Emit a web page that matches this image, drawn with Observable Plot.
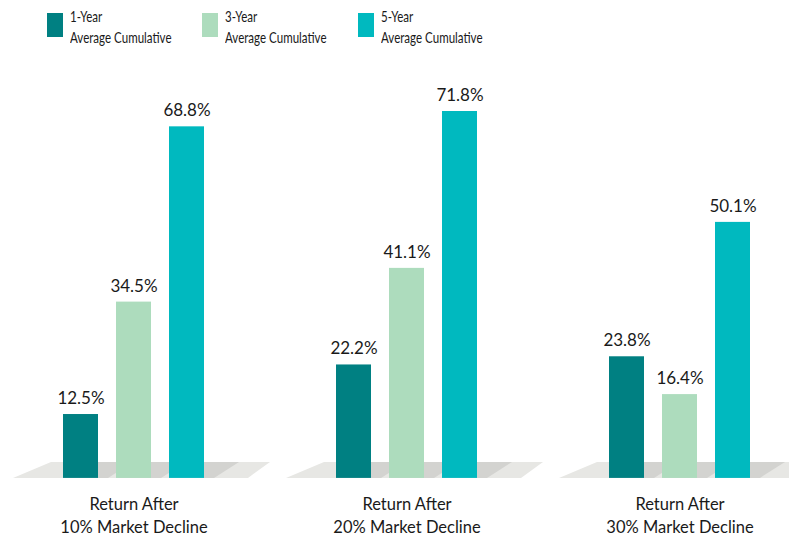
<!DOCTYPE html>
<html>
<head>
<meta charset="utf-8">
<script src="https://cdn.jsdelivr.net/npm/d3@7"></script>
<script src="https://cdn.jsdelivr.net/npm/@observablehq/plot@0.6"></script>
<style>
  html, body { margin: 0; padding: 0; background: #ffffff; }
  body { width: 789px; font-family: Lato, sans-serif; color: #1a1a1a; }
  #legend { position: relative; height: 55px; }
  .sw { position: absolute; top: 13px; width: 16px; height: 24px; }
  .lt { position: absolute; top: 6px; font-size: 15px; line-height: 21px; white-space: pre; transform: scaleX(0.77); transform-origin: 0 0; }
  #chart svg { display: block; }
</style>
</head>
<body>
<div id="legend"></div>
<div id="chart"></div>
<script>
const periods = ["1-Year", "3-Year", "5-Year"];
const legendLabels = ["1-Year\nAverage Cumulative", "3-Year\nAverage Cumulative", "5-Year\nAverage Cumulative"];
const declines = ["10%", "20%", "30%"];
const groupLabels = ["Return After\n10% Market Decline", "Return After\n20% Market Decline", "Return After\n30% Market Decline"];
const oneYear = [12.5, 22.2, 23.8];
const threeYear = [34.5, 41.1, 16.4];
const fiveYear = [68.8, 71.8, 50.1];
const colors = ["#008082", "#addcbd", "#00b9bf"];

const series = [oneYear, threeYear, fiveYear];
const data = [];
declines.forEach((g, gi) => periods.forEach((p, pi) => data.push({group: g, period: p, value: series[pi][gi]})));

// Legend
const legend = document.getElementById("legend");
const legendX = [47, 202, 358];
periods.forEach((p, i) => {
  const sw = document.createElement("div");
  sw.className = "sw";
  sw.style.left = legendX[i] + "px";
  sw.style.background = colors[i];
  legend.appendChild(sw);
  const t = document.createElement("div");
  t.className = "lt";
  t.style.left = (legendX[i] + 23) + "px";
  t.textContent = legendLabels[i];
  legend.appendChild(t);
});

const chart = Plot.plot({
  width: 789,
  height: 481,
  marginLeft: 0,
  marginRight: 0,
  marginTop: 14,
  marginBottom: 58,
  style: {fontFamily: 'Lato, sans-serif', fontSize: "17px", color: "#1a1a1a", background: "transparent", overflow: "visible"},
  fx: {domain: declines, range: [-3.5, 815.5], padding: 0, axis: null},
  x: {domain: periods, range: [65.5, 207.5], paddingInner: 0.346, paddingOuter: 0, axis: null},
  y: {domain: [0, 80], range: [422.9, 14.1], axis: null},
  color: {domain: periods, range: colors},
  marks: [
    Plot.barY(data, {fx: "group", x: "period", y: "value", fill: "period"}),
    Plot.text(data, {fx: "group", x: "period", y: "value", text: d => d.value.toFixed(1) + "%", dy: -16, fontSize: 17, fill: "#1a1a1a"}),
    Plot.text(declines, {fx: d => d, text: (d, i) => groupLabels[i], frameAnchor: "bottom", lineAnchor: "middle", dy: 35.5, lineHeight: 1.38, fontSize: 16.5, fill: "#1a1a1a"})
  ]
});

// Floor (3D-style base) drawn from the plot's own scales
function toFn(s) {
  if (typeof s.apply === "function") return v => s.apply(v);
  if (s.type === "band") {
    return d3.scaleBand(s.domain, s.range).paddingInner(s.paddingInner ?? s.padding ?? 0).paddingOuter(s.paddingOuter ?? s.padding ?? 0).align(s.align ?? 0.5);
  }
  return d3.scaleLinear(s.domain, s.range);
}
const fxS = chart.scale("fx"), xS = chart.scale("x"), yS = chart.scale("y");
const fxF = toFn(fxS), xF = toFn(xS), yF = toFn(yS);
const bw = xS.bandwidth ?? 35;
const floor = d3.create("svg:g").attr("aria-label", "floor");
declines.forEach(g => {
  const ox = fxF(g);
  const base = yF(0);
  const top = base - 16;
  const left = ox + xF(periods[0]) - 50;
  const rightEnd = ox + xF(periods[2]) + bw;
  floor.append("polygon")
    .attr("points", [[left, base], [rightEnd + 44, base], [rightEnd + 66, top], [left + 38, top]].map(p => p.join(",")).join(" "))
    .attr("fill", "#e7e7e4");
  periods.forEach(p => {
    const x0 = ox + xF(p), x1 = x0 + bw;
    floor.append("polygon")
      .attr("points", [[x0, base], [x1 + 10, base], [x1 + 35, top], [x0 + 35, top]].map(q => q.join(",")).join(" "))
      .attr("fill", "#d3d3d0");
  });
});
const firstMark = chart.querySelector("g[aria-label]");
chart.insertBefore(floor.node(), firstMark);

document.getElementById("chart").appendChild(chart);
</script>
</body>
</html>
